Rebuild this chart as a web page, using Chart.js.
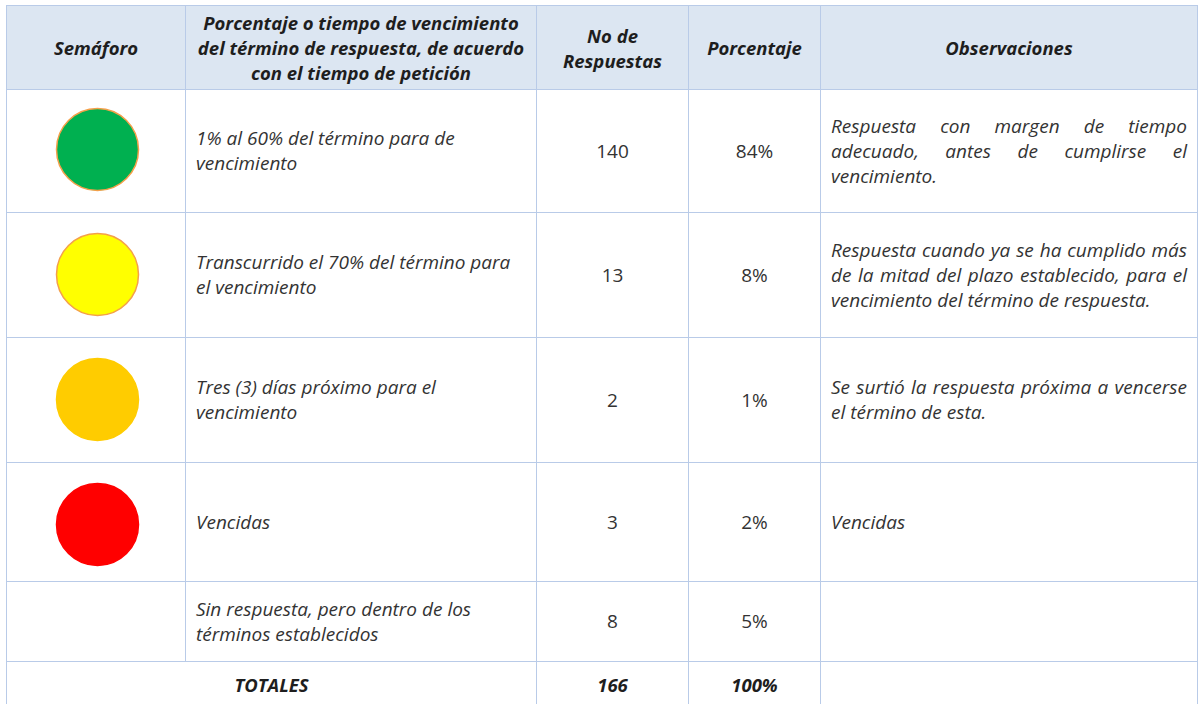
<!DOCTYPE html>
<html>
<head>
<meta charset="utf-8">
<script src="https://cdn.jsdelivr.net/npm/chart.js"></script>
<style>
  html, body { margin: 0; padding: 0; background: #fff; width: 1200px; height: 704px; overflow: hidden; }
  #wrap { position: absolute; left: 6px; top: 5px; }
  table { border-collapse: collapse; table-layout: fixed; font-family: "Open Sans", Lato, sans-serif; font-size: 19px; color: #333; }
  td, th { border: 1.5px solid #b9cbe8; padding: 0 10px; vertical-align: middle; line-height: 25px; white-space: nowrap; }
  th { background: #dce6f2; font-weight: bold; font-style: italic; color: #1e1e1e; text-align: center; padding: 0 4px; font-size: 18.5px; }
  td.txt { font-style: italic; text-align: left; }
  td.num { text-align: center; }
  td.tot { font-weight: bold; font-style: italic; text-align: center; color: #1e1e1e; font-size: 18.5px; }
  .j { display: block; text-align: justify; text-align-last: justify; }
  #lights { position: absolute; left: 8px; top: 87px; width: 179px; height: 500px; }
</style>
</head>
<body>
<div id="wrap"><table id="tbl"></table></div>
<div id="lights"><canvas id="semaforo"></canvas></div>
<script>
// datos de la tabla
const encabezados = ['Semáforo', 'Porcentaje o tiempo de vencimiento<br>del término de respuesta, de acuerdo<br>con el tiempo de petición', 'No de<br>Respuestas', 'Porcentaje', 'Observaciones'];
const semaforoColores = ['#00b050', '#ffff00', '#ffcc00', '#ff0000'];
const semaforoBordes = ['#f4a04a', '#f4a04a', '#ffcc00', '#ff0000'];
const criterios = [
  '1% al 60% del término para de<br>vencimiento',
  'Transcurrido el 70% del término para<br>el vencimiento',
  'Tres (3) días próximo para el<br>vencimiento',
  'Vencidas',
  'Sin respuesta, pero dentro de los<br>términos establecidos'
];
const respuestas = [140, 13, 2, 3, 8];
const porcentajes = ['84%', '8%', '1%', '2%', '5%'];
const observaciones = [
  '<span class="j">Respuesta con margen de tiempo</span><span class="j">adecuado, antes de cumplirse el</span>vencimiento.',
  '<span class="j">Respuesta cuando ya se ha cumplido más</span><span class="j">de la mitad del plazo establecido, para el</span>vencimiento del término de respuesta.',
  '<span class="j">Se surtió la respuesta próxima a vencerse</span>el término de esta.',
  'Vencidas',
  ''
];
const totalRespuestas = 166;
const totalPorcentaje = '100%';

const colWidths = [179, 351, 152, 132, 377];
const rowHeights = [84, 123, 125, 125, 119, 80, 50];

let html = '<colgroup>' + colWidths.map(w => `<col style="width:${w}px">`).join('') + '</colgroup>';
html += `<tr style="height:${rowHeights[0]}px">` + encabezados.map(h => `<th>${h}</th>`).join('') + '</tr>';
criterios.forEach((c, i) => {
  html += `<tr style="height:${rowHeights[i + 1]}px"><td></td><td class="txt">${c}</td>` +
    `<td class="num">${respuestas[i]}</td><td class="num">${porcentajes[i]}</td>` +
    `<td class="txt">${observaciones[i]}</td></tr>`;
});
html += `<tr style="height:${rowHeights[6]}px"><td class="tot" colspan="2" style="vertical-align:top;padding-top:10px">TOTALES</td>` +
  `<td class="tot" style="vertical-align:top;padding-top:10px">${totalRespuestas}</td>` +
  `<td class="tot" style="vertical-align:top;padding-top:10px">${totalPorcentaje}</td><td></td></tr>`;
document.getElementById('tbl').innerHTML = html;

// semáforo: un punto por fila
const etiquetas = ['verde', 'amarillo', 'naranja', 'rojo'];
new Chart(document.getElementById('semaforo'), {
  type: 'scatter',
  data: {
    datasets: [{
      data: etiquetas.map(e => ({ x: 1, y: e })),
      backgroundColor: semaforoColores,
      borderColor: semaforoBordes,
      borderWidth: 1.5,
      pointRadius: 41,
      pointHoverRadius: 41
    }]
  },
  options: {
    responsive: true,
    maintainAspectRatio: false,
    animation: false,
    events: [],
    layout: { padding: 0, autoPadding: false },
    plugins: { legend: { display: false }, tooltip: { enabled: false } },
    scales: {
      x: { type: 'linear', min: 0, max: 2, display: false },
      y: { type: 'category', labels: etiquetas, offset: true, display: false }
    }
  }
});
</script>
</body>
</html>
